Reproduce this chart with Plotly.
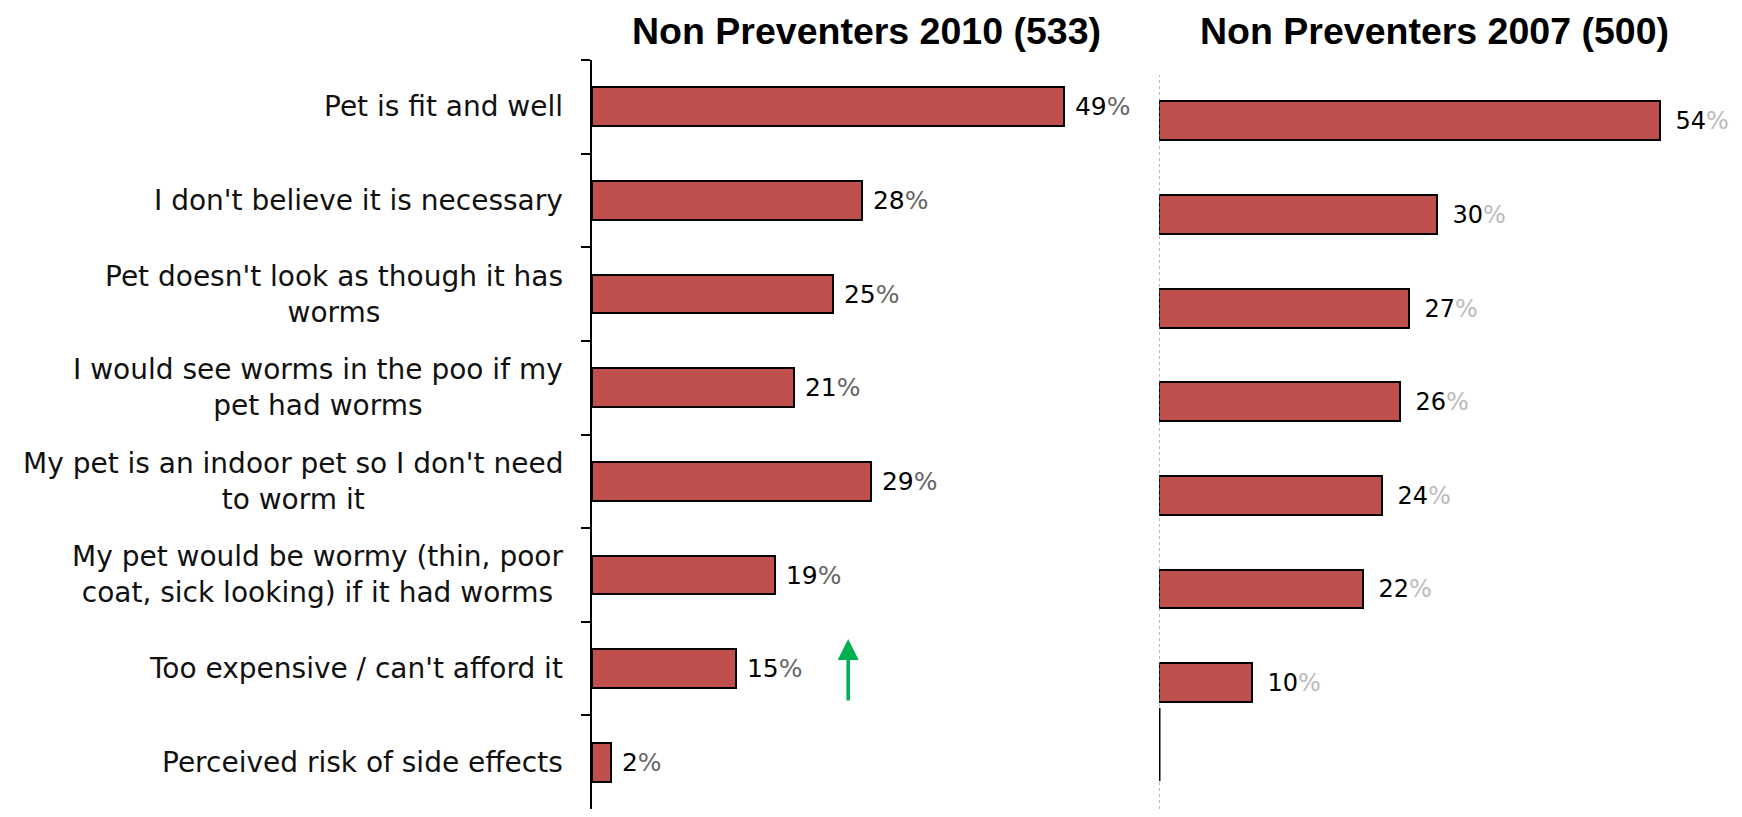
import plotly.graph_objects as go

categories = [
    "Pet is fit and well",
    "I don't believe it is necessary",
    "Pet doesn't look as though it has<br>worms",
    "I would see worms in the poo if my<br>pet had worms",
    "My pet is an indoor pet so I don't need<br>to worm it",
    "My pet would be wormy (thin, poor<br>coat, sick looking) if it had worms",
    "Too expensive / can't afford it",
    "Perceived risk of side effects",
]
values_2010 = [49, 28, 25, 21, 29, 19, 15, 2]
values_2007 = [54, 30, 27, 26, 24, 22, 10, None]
title_2010 = "Non Preventers 2010 (533)"
title_2007 = "Non Preventers 2007 (500)"

# page body has an 8px margin, so the figure is 16px smaller than the window
W, H = 1726, 801
BAR_COLOR = "#C0504D"
LABEL_FONT = "DejaVu Sans"

fig = go.Figure()

fig.add_trace(go.Bar(
    y=categories, x=values_2010, orientation="h", xaxis="x", yaxis="y",
    width=0.415,
    marker=dict(color=BAR_COLOR, line=dict(color="black", width=2)),
    text=[f"\u00a0{v}<span style='color:#666'>%</span>" for v in values_2010],
    textposition="outside", cliponaxis=False,
    textfont=dict(family=LABEL_FONT, size=25, color="black"),
    hoverinfo="skip",
))
fig.add_trace(go.Bar(
    y=categories, x=values_2007, orientation="h", xaxis="x2", yaxis="y2",
    width=0.415,
    marker=dict(color=BAR_COLOR, line=dict(color="black", width=2)),
    text=[("" if v is None else f"\u00a0\u2009{v}<span style='color:#bbb'>%</span>") for v in values_2007],
    textposition="outside", cliponaxis=False,
    textfont=dict(family=LABEL_FONT, size=24, color="black"),
    hoverinfo="skip",
))

ydom = [0.0, 1 - 52 / H]
fig.update_layout(
    width=W, height=H,
    margin=dict(l=0, r=0, t=0, b=0),
    paper_bgcolor="white", plot_bgcolor="white",
    showlegend=False,
    bargap=0,
    xaxis=dict(domain=[584 / W, 1113.7 / W], range=[0, 55], visible=False, fixedrange=True),
    yaxis=dict(domain=ydom, type="category", categoryarray=categories, categoryorder="array",
               range=[7.5, -0.5], showline=True, linecolor="black", linewidth=1.5,
               ticks="outside", tickson="boundaries", ticklen=9, tickcolor="black", tickwidth=1.5,
               showticklabels=False, showgrid=False, zeroline=False),
    xaxis2=dict(domain=[1151 / W, 1.0], range=[0, 62], visible=False, fixedrange=True),
    yaxis2=dict(domain=ydom, anchor="x2", type="category", categoryarray=categories, categoryorder="array",
                range=[7.35, -0.65], showline=False, ticks="", showticklabels=False,
                showgrid=False, zeroline=False),
)

# category labels (right aligned block, centered lines)
for c in categories:
    fig.add_annotation(
        text=c, xref="paper", yref="y", x=557 / W, y=c, xanchor="right", yanchor="middle",
        align="center", showarrow=False,
        font=dict(family=LABEL_FONT, size=28, color="#111"),
    )

# panel titles
fig.add_annotation(text=f"<b>{title_2010}</b>", xref="paper", yref="paper",
                   x=858 / W, y=1 - 23 / H, xanchor="center", yanchor="middle", showarrow=False,
                   font=dict(family="Liberation Sans", size=37.5, color="black"))
fig.add_annotation(text=f"<b>{title_2007}</b>", xref="paper", yref="paper",
                   x=1426 / W, y=1 - 23 / H, xanchor="center", yanchor="middle", showarrow=False,
                   font=dict(family="Liberation Sans", size=37.5, color="black"))

# right panel dotted axis line
fig.add_shape(type="line", xref="x2", yref="paper", x0=0, x1=0, y0=0, y1=1 - 67 / H,
              line=dict(color="#777", width=1, dash="dot"))
# thick mark on right axis at last category
fig.add_shape(type="line", xref="x2", yref="y2", x0=0, x1=0, y0=6.27, y1=7.05,
              line=dict(color="black", width=3))

# green up arrow
fig.add_annotation(xref="x", yref="paper", x=26.6, y=1 - 631 / H,
                   axref="pixel", ayref="pixel", ax=0, ay=63,
                   showarrow=True, arrowhead=2, arrowsize=1.2, arrowwidth=3.5,
                   arrowcolor="#00B050", text="")

fig.write_html("out.html")
